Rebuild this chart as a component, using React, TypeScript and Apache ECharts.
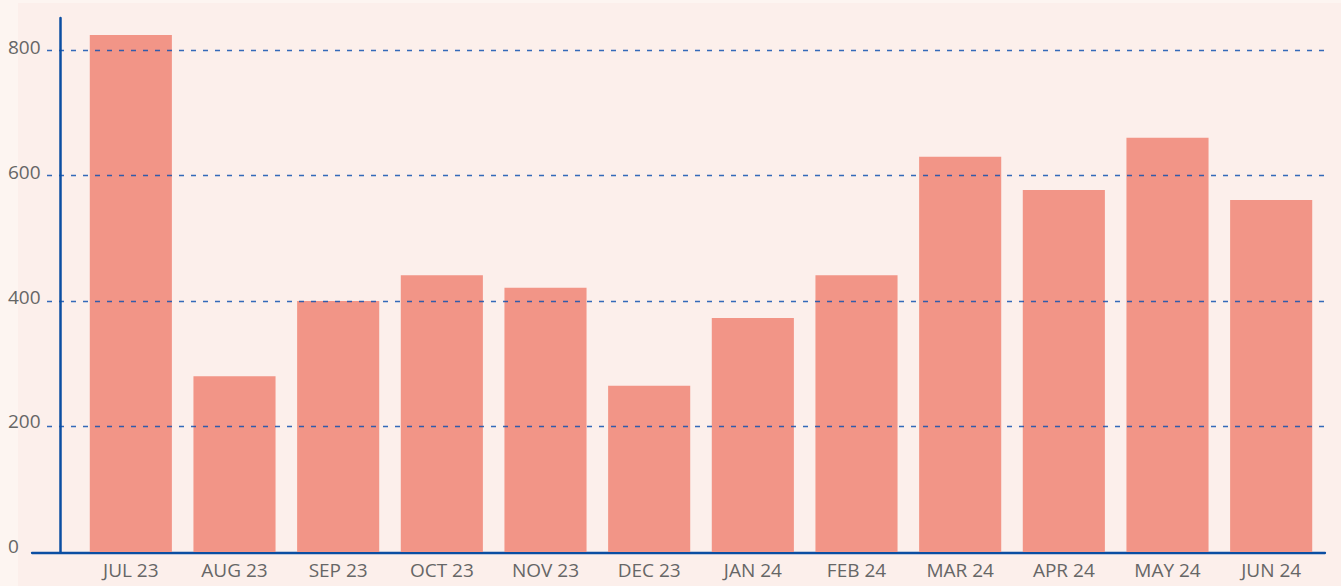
import React, { useEffect, useRef } from "react";
import * as echarts from "echarts";

const categories = ["JUL 23", "AUG 23", "SEP 23", "OCT 23", "NOV 23", "DEC 23", "JAN 24", "FEB 24", "MAR 24", "APR 24", "MAY 24", "JUN 24"];
const values = [824, 280, 400, 441, 421, 265, 373, 441, 630, 577, 660, 561];
const yMin = 0;
const yMax = 800;
const yInterval = 200;

const W = 1341;
const H = 586;
const FONT = "'Open Sans', 'Noto Sans', sans-serif";
const AXIS_BLUE = "#0b4ea2";
const LABEL_GRAY = "#666666";

export default function App() {
  const ref = useRef<HTMLDivElement>(null);

  useEffect(() => {
    if (!ref.current) return;
    const chart = echarts.init(ref.current, undefined, { renderer: "svg" });
    const hiddenX = (gridIndex: number) => ({ type: "value", gridIndex, min: 0, max: 1, show: false });
    chart.setOption({
      animation: false,
      backgroundColor: "#fdf5f1",
      graphic: [
        {
          type: "rect",
          z: -10,
          silent: true,
          shape: { x: 18, y: 3, width: W - 18, height: H - 3 },
          style: { fill: "#fcefeb" },
        },
      ],
      grid: [
        // 0: x axis line
        { left: 32, right: 16, top: 50, bottom: 33 },
        // 1: dashed grid lines
        { left: 47, right: 16, top: 50, bottom: 34 },
        // 2: bars and category labels
        { left: 79, right: 18, top: 50, bottom: 34 },
        // 3: y axis line
        { left: 60, right: 16, top: 18, bottom: 34 },
        // 4: y labels
        { left: 48, right: 16, top: 47, bottom: 40 },
      ],
      xAxis: [
        {
          type: "value",
          gridIndex: 0,
          min: 0,
          max: 1,
          axisLine: { show: true, lineStyle: { color: AXIS_BLUE, width: 2.3 } },
          axisTick: { show: false },
          axisLabel: { show: false },
          splitLine: { show: false },
        },
        hiddenX(1),
        {
          type: "category",
          gridIndex: 2,
          data: categories,
          axisLine: { show: false },
          axisTick: { show: false },
          axisLabel: { color: LABEL_GRAY, fontSize: 19, fontFamily: FONT, margin: 8 },
        },
        hiddenX(3),
        hiddenX(4),
      ],
      yAxis: [
        { type: "value", gridIndex: 0, min: yMin, max: yMax, show: false },
        {
          type: "value",
          gridIndex: 1,
          min: yMin,
          max: yMax,
          interval: yInterval,
          z: 5,
          axisLine: { show: false },
          axisTick: { show: false },
          axisLabel: { show: false },
          splitLine: {
            show: true,
            showMinLine: false,
            lineStyle: { color: "rgba(16, 82, 176, 0.85)", width: 1.3, type: [5, 7] },
          },
        },
        { type: "value", gridIndex: 2, min: yMin, max: yMax, show: false },
        {
          type: "value",
          gridIndex: 3,
          min: 0,
          max: 1,
          z: 6,
          axisLine: { show: true, lineStyle: { color: AXIS_BLUE, width: 2.5 } },
          axisTick: { show: false },
          axisLabel: { show: false },
          splitLine: { show: false },
        },
        {
          type: "value",
          gridIndex: 4,
          min: yMin,
          max: yMax,
          interval: yInterval,
          axisLine: { show: false },
          axisTick: { show: false },
          splitLine: { show: false },
          axisLabel: {
            color: LABEL_GRAY,
            fontSize: 19,
            fontFamily: FONT,
            align: "left",
            margin: 40,
          },
        },
      ],
      series: [
        {
          type: "bar",
          xAxisIndex: 2,
          yAxisIndex: 2,
          data: values,
          clip: false,
          barCategoryGap: "20.8%",
          itemStyle: { color: "#f29587" },
        },
      ],
    });
    return () => chart.dispose();
  }, []);

  return (
    <div
      ref={ref}
      style={{ position: "fixed", left: 0, top: 0, width: W, height: H }}
    />
  );
}
